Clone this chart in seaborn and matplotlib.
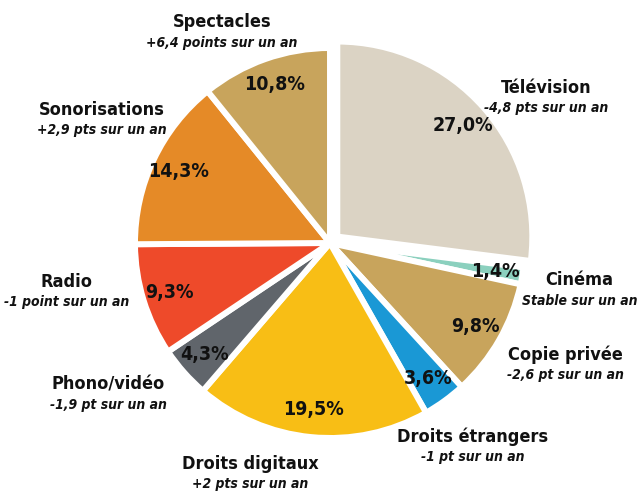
import matplotlib
matplotlib.use('Agg')
import matplotlib.pyplot as plt
import seaborn as sns
from matplotlib import font_manager

# Parts of the revenue, clockwise from 12 o'clock
categories = ['Télévision', 'Cinéma', 'Copie privée', 'Droits étrangers', 'Droits digitaux',
              'Phono/vidéo', 'Radio', 'Sonorisations', 'Spectacles']
shares = [27.0, 1.4, 9.8, 3.6, 19.5, 4.3, 9.3, 14.3, 10.8]
changes = ['-4,8 pts sur un an', 'Stable sur un an', '-2,6 pt sur un an', '-1 pt sur un an',
           '+2 pts sur un an', '-1,9 pt sur un an', '-1 point sur un an', '+2,9 pts sur un an',
           '+6,4 points sur un an']
colors = ['#DBD3C4', '#8BD0BE', '#C8A45C', '#1A98D5', '#F8BE15',
          '#60656B', '#EE4A2A', '#E58A27', '#C8A45C']

# centre of each outer caption title (axes data units, pie radius = 1)
label_pos = [(1.11, 0.795), (1.28, -0.19), (1.205, -0.574), (0.733, -0.995), (-0.41, -1.133),
             (-1.138, -0.728), (-1.349, -0.20), (-1.169, 0.682), (-0.554, 1.133)]
line_gap = 0.105

sns.set_theme(style='white')
names = {f.name for f in font_manager.fontManager.ttflist}
cond = 'Liberation Sans Narrow' if 'Liberation Sans Narrow' in names else 'DejaVu Sans'
plt.rcParams['font.family'] = [cond, 'DejaVu Sans']

fig = plt.figure(figsize=(6.42, 4.91), dpi=100)
ax = fig.add_axes([(330 - 195) / 642, (248 - 195) / 491, 390 / 642, 390 / 491])

explode = [0.05 if c == 'Télévision' else 0 for c in categories]
wedges, texts, autotexts = ax.pie(
    shares, colors=colors, startangle=90, counterclock=False, explode=explode,
    autopct=lambda p: f'{p:.1f}%'.replace('.', ','), pctdistance=0.86,
    wedgeprops=dict(edgecolor='white', linewidth=4.3),
    textprops=dict(fontsize=14, fontweight='bold', color='#111111', fontstretch='condensed'))
ax.set_xlim(-1, 1)
ax.set_ylim(-1, 1)
ax.set_aspect('equal')
ax.axis('off')

for cat, chg, (x, y) in zip(categories, changes, label_pos):
    ax.text(x, y, cat, ha='center', va='center', fontsize=13, fontweight='bold',
            fontstretch='condensed', color='#111111', clip_on=False)
    ax.text(x, y - line_gap, chg, ha='center', va='center', fontsize=10, fontweight='bold',
            style='italic', fontstretch='condensed', color='#111111', clip_on=False)

fig.savefig('out.png', dpi=100)
